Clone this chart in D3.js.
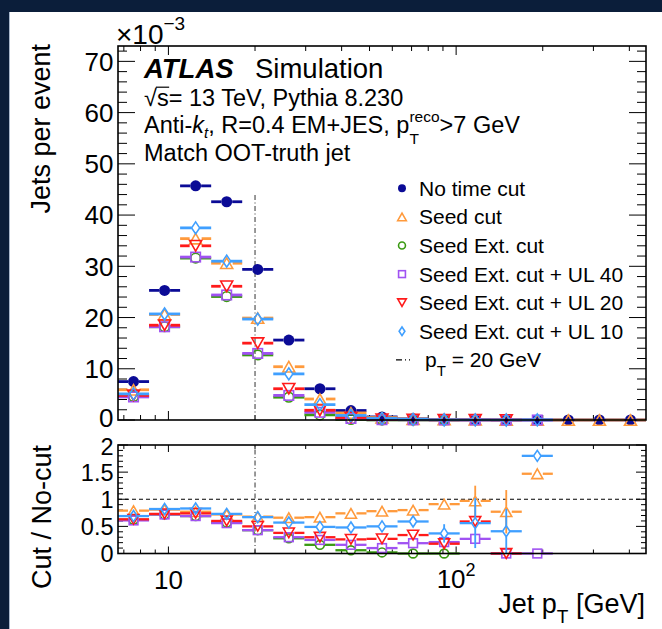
<!DOCTYPE html>
<html><head><meta charset="utf-8">
<script src="https://cdn.jsdelivr.net/npm/d3@7"></script>
<style>
body{margin:0;background:#0b1e3a;}
svg{display:block;}
text{font-family:"Liberation Sans",Arial,Helvetica,sans-serif;white-space:pre;fill:#000;}
</style>
</head><body>
<svg id="c" width="662" height="629"></svg>
<script>
// ---------------- data ----------------
const binEdges = [6.68, 8.565, 10.98, 14.08, 18.05, 23.14, 29.69, 38.06, 48.80, 62.57, 80.24, 102.9, 131.9, 169.1, 216.8, 278.0, 356.5, 457.0];
const seriesNames = ["No time cut", "Seed cut", "Seed Ext. cut", "Seed Ext. cut + UL 40", "Seed Ext. cut + UL 20", "Seed Ext. cut + UL 10"];

// Jets per event (x 10^-3)
const noCut   = [7.5, 25.3, 45.7, 42.6, 29.4, 15.6, 6.1, 1.85, 0.6, 0.22, 0.1, 0.05, 0.03, 0.015, 0.008, 0.005, 0.003];
const seedCut = [5.9, 20.6, 35.4, 30.6, 19.9, 10.4, 4.1, 1.37, 0.47, 0.18, 0.09, 0.05, 0.02, 0.02, 0, 0, 0];
const seedExt = [4.6, 18.2, 31.6, 24.1, 12.7, 4.45, 1.0, 0.11, 0.01, 0, 0, null, null, null, null, null, null];
const ul40    = [4.5, 18.2, 31.8, 24.4, 13.0, 4.8, 1.5, 0.3, 0.06, 0.04, 0.02, 0.015, 0, 0, null, null, null];
const ul20    = [4.8, 18.5, 34.0, 26.1, 15.0, 6.1, 1.9, 0.5, 0.16, 0.07, 0.02, 0.03, 0, null, null, null, null];
const ul10    = [5.1, 20.7, 37.5, 31.0, 19.7, 9.0, 3.0, 0.89, 0.3, 0.13, 0.04, 0.03, 0.012, 0.027, null, null, null];

// Cut / No-cut ratios
const rSeed  = [0.79, 0.81, 0.77, 0.72, 0.68, 0.66, 0.67, 0.74, 0.78, 0.80, 0.91, 0.97, 0.77, 1.47, null, null, null];
const rExt   = [0.62, 0.72, 0.69, 0.57, 0.43, 0.28, 0.16, 0.06, 0.02, 0, 0, null, null, null, null, null, null];
const rUL40  = [0.61, 0.72, 0.69, 0.56, 0.43, 0.30, 0.25, 0.16, 0.10, 0.19, 0.21, 0.27, 0, 0, null, null, null];
const rUL20  = [0.63, 0.73, 0.74, 0.60, 0.50, 0.38, 0.30, 0.26, 0.27, 0.34, 0.18, 0.59, 0, null, null, null, null];
const rUL10  = [0.69, 0.82, 0.83, 0.73, 0.67, 0.57, 0.49, 0.48, 0.50, 0.59, 0.37, 0.56, 0.41, 1.80, null, null, null];
// ratio uncertainties
const eSeed  = [0.01, 0.01, 0.01, 0.01, 0.01, 0.01, 0.02, 0.02, 0.03, 0.05, 0.08, 0.28, 0.40, 0, 0, 0, 0];
const eExt   = [0, 0, 0, 0, 0, 0, 0.01, 0.01, 0.01, 0, 0, 0, 0, 0, 0, 0, 0];
const eUL40  = [0, 0, 0, 0, 0, 0, 0.01, 0.02, 0.02, 0.04, 0.05, 0.05, 0, 0, 0, 0, 0];
const eUL20  = [0, 0, 0, 0, 0, 0, 0.01, 0.02, 0.03, 0.05, 0.05, 0.06, 0, 0, 0, 0, 0];
const eUL10  = [0.01, 0.01, 0.01, 0.01, 0.01, 0.01, 0.02, 0.03, 0.04, 0.08, 0.17, 0.46, 0.41, 0, 0, 0, 0];

const yTicksMain  = [0, 10, 20, 30, 40, 50, 60, 70];
const yTicksRatio = [0, 0.5, 1, 1.5, 2];
const xMajor = [10, 100];
const xMinor = [7, 8, 9, 20, 30, 40, 50, 60, 70, 80, 90, 200, 300, 400];
const cutPt = 20;        // GeV
const cutLineTop = 44;   // x10^-3, top end of the line in the upper panel
const yMaxMain = 73;
const yMaxRatio = 2;

// ---------------- styles ----------------
const styles = [
  {color: "#0b0b96", shape: "circleF"},
  {color: "#ff9a3c", shape: "triUp"},
  {color: "#3a9a12", shape: "circleO"},
  {color: "#a052f2", shape: "square"},
  {color: "#ff1a1a", shape: "triDown"},
  {color: "#3f9fff", shape: "diamond"}
];

const svg = d3.select("#c");
svg.append("rect").attr("width", 662).attr("height", 629).attr("fill", "#0b1e3a");
svg.append("rect").attr("x", 9.5).attr("y", 12).attr("width", 652.5).attr("height", 617).attr("fill", "#fff");
svg.append("line").attr("x1", 9.5).attr("x2", 9.5).attr("y1", 12).attr("y2", 629).attr("stroke", "#a9b8cc").attr("stroke-width", 1);

const X0 = 118, X1 = 646, MT = 46, MB = 420, RT = 445, RB = 553.5;
const x  = d3.scaleLog().domain([binEdges[0], binEdges[binEdges.length - 1]]).range([X0, X1]);
const yM = d3.scaleLinear().domain([0, yMaxMain]).range([MB, MT]);
const yR = d3.scaleLinear().domain([0, yMaxRatio]).range([RB, RT]);

// ---------------- helpers ----------------
function rich(parent, x0, y0, runs, anchor) {
  const g = parent.append("g");
  let cx = 0; const pos = [];
  const mk = (r, xx) => g.append("text").attr("x", xx).attr("y", r.dy || 0)
      .attr("font-size", r.fs).attr("font-style", r.it ? "italic" : "normal")
      .attr("font-weight", r.b ? "bold" : "normal").text(r.t);
  for (let i = 0; i < runs.length; i++) {
    const r = runs[i];
    const e = mk(r, cx); let w = e.node().getComputedTextLength();
    pos.push([cx, cx + w]);
    if (r.stack) {
      const r2 = runs[++i]; const e2 = mk(r2, cx);
      const w2 = e2.node().getComputedTextLength();
      pos.push([cx, cx + w2]); w = Math.max(w, w2);
    }
    cx += w + (r.after || 0);
  }
  const xs = anchor === "end" ? x0 - cx : anchor === "middle" ? x0 - cx / 2 : x0;
  g.attr("transform", `translate(${xs},${y0})`);
  return {g, pos, width: cx, x: xs};
}

const halfW = {circleF: 5.5, circleO: 5, triUp: 6, triDown: 6, square: 5, diamond: 4};
const halfH = {circleF: 5.5, circleO: 5, triUp: 5.5, triDown: 5.5, square: 5, diamond: 6};

function marker(g, shape, cx, cy, s, color) {
  const sw = 1.6;
  if (shape === "circleF") {
    g.append("circle").attr("cx", cx).attr("cy", cy).attr("r", 5.5 * s).attr("fill", color);
  } else if (shape === "circleO") {
    g.append("circle").attr("cx", cx).attr("cy", cy).attr("r", 4.8 * s).attr("fill", "none").attr("stroke", color).attr("stroke-width", sw);
  } else if (shape === "triUp" || shape === "triDown") {
    const w = 12 * s, h = 10.5 * s, d = shape === "triUp" ? 1 : -1;
    g.append("path").attr("d", `M${cx - w / 2},${cy + d * h / 2}L${cx + w / 2},${cy + d * h / 2}L${cx},${cy - d * h / 2}Z`)
      .attr("fill", "none").attr("stroke", color).attr("stroke-width", sw).attr("stroke-linejoin", "miter");
  } else if (shape === "square") {
    const a = 9.5 * s;
    g.append("rect").attr("x", cx - a / 2).attr("y", cy - a / 2).attr("width", a).attr("height", a)
      .attr("fill", "none").attr("stroke", color).attr("stroke-width", sw);
  } else if (shape === "diamond") {
    const w = 8 * s, h = 12 * s;
    g.append("path").attr("d", `M${cx},${cy - h / 2}L${cx + w / 2},${cy}L${cx},${cy + h / 2}L${cx - w / 2},${cy}Z`)
      .attr("fill", "none").attr("stroke", color).attr("stroke-width", sw);
  }
}

function drawSeries(g, vals, errs, st, yScale, lw, s, yLo, yHi) {
  const gg = g.append("g");
  vals.forEach((v, i) => {
    if (v == null) return;
    const lo = x(binEdges[i]), hi = x(binEdges[i + 1]);
    const cx = x(Math.sqrt(binEdges[i] * binEdges[i + 1]));
    const cy = yScale(v);
    const gw = halfW[st.shape] * s, gh = halfH[st.shape] * s;
    gg.append("line").attr("x1", lo).attr("x2", cx - gw).attr("y1", cy).attr("y2", cy).attr("stroke", st.color).attr("stroke-width", lw);
    gg.append("line").attr("x1", cx + gw).attr("x2", hi).attr("y1", cy).attr("y2", cy).attr("stroke", st.color).attr("stroke-width", lw);
    if (errs && errs[i] > 0) {
      const up = yScale(Math.min(v + errs[i], yHi)), dn = yScale(Math.max(v - errs[i], yLo));
      if (cy - gh > up) gg.append("line").attr("x1", cx).attr("x2", cx).attr("y1", up).attr("y2", cy - gh).attr("stroke", st.color).attr("stroke-width", lw * 0.8);
      if (cy + gh < dn) gg.append("line").attr("x1", cx).attr("x2", cx).attr("y1", cy + gh).attr("y2", dn).attr("stroke", st.color).attr("stroke-width", lw * 0.8);
    }
    marker(gg, st.shape, cx, cy, s, st.color);
  });
}

function xTicks(g, yBase, dir, lenMaj, lenMin) {
  xMajor.forEach(t => g.append("line").attr("x1", x(t)).attr("x2", x(t)).attr("y1", yBase).attr("y2", yBase + dir * lenMaj));
  xMinor.forEach(t => g.append("line").attr("x1", x(t)).attr("x2", x(t)).attr("y1", yBase).attr("y2", yBase + dir * lenMin));
}
function yTicks(g, scale, majors, minorStep, maxV, lenMaj, lenMin) {
  majors.forEach(t => {
    g.append("line").attr("x1", X0).attr("x2", X0 + lenMaj).attr("y1", scale(t)).attr("y2", scale(t));
    g.append("line").attr("x1", X1).attr("x2", X1 - lenMaj).attr("y1", scale(t)).attr("y2", scale(t));
  });
  const minors = d3.range(0, maxV + 1e-9, minorStep).filter(v => !majors.some(m => Math.abs(m - v) < 1e-9));
  minors.forEach(t => {
    g.append("line").attr("x1", X0).attr("x2", X0 + lenMin).attr("y1", scale(t)).attr("y2", scale(t));
    g.append("line").attr("x1", X1).attr("x2", X1 - lenMin).attr("y1", scale(t)).attr("y2", scale(t));
  });
}

// ---------------- ticks ----------------
const tickG = svg.append("g").attr("stroke", "#000").attr("stroke-width", 1);
xTicks(tickG, MB, -1, 9, 5);
xTicks(tickG, MT, 1, 9, 5);
yTicks(tickG, yM, yTicksMain, 2, yMaxMain, 17, 9);
xTicks(tickG, RB, -1, 7, 4);
xTicks(tickG, RT, 1, 7, 4);
yTicks(tickG, yR, yTicksRatio, 0.1, yMaxRatio, 10, 5);

// pT = 20 GeV lines
const lineStyle = {stroke: "#555", w: 1.2, dash: "5,2.5,1,2.5"};
svg.append("line").attr("x1", x(cutPt)).attr("x2", x(cutPt)).attr("y1", yM(0)).attr("y2", yM(cutLineTop))
  .attr("stroke", lineStyle.stroke).attr("stroke-width", lineStyle.w).attr("stroke-dasharray", lineStyle.dash);
svg.append("line").attr("x1", x(cutPt)).attr("x2", x(cutPt)).attr("y1", RB).attr("y2", RT)
  .attr("stroke", lineStyle.stroke).attr("stroke-width", lineStyle.w).attr("stroke-dasharray", lineStyle.dash);
// ratio = 1
svg.append("line").attr("x1", X0).attr("x2", X1).attr("y1", yR(1)).attr("y2", yR(1))
  .attr("stroke", "#000").attr("stroke-width", 1).attr("stroke-dasharray", "4,3");

const mainG = svg.append("g");
[noCut, seedCut, seedExt, ul40, ul20, ul10].forEach((vals, si) => drawSeries(mainG, vals, null, styles[si], yM, 2.8, 1, 0, yMaxMain));

const ratioG = svg.append("g");
[[rSeed, eSeed, 1], [rExt, eExt, 2], [rUL40, eUL40, 3], [rUL20, eUL20, 4], [rUL10, eUL10, 5]]
  .forEach(([vals, errs, si]) => drawSeries(ratioG, vals, errs, styles[si], yR, 2.3, 0.92, 0, yMaxRatio));

// frames
svg.append("rect").attr("x", X0).attr("y", MT).attr("width", X1 - X0).attr("height", MB - MT).attr("fill", "none").attr("stroke", "#000").attr("stroke-width", 1.6);
svg.append("rect").attr("x", X0).attr("y", RT).attr("width", X1 - X0).attr("height", RB - RT).attr("fill", "none").attr("stroke", "#000").attr("stroke-width", 1.6);

// ---------------- tick labels ----------------
const TFS = 26, RFS = 23.5;
const mainLabelShift = {0: -2.5};
const ratioLabelShift = {2: 1.5};
yTicksMain.forEach(t => svg.append("text").attr("x", 113.5).attr("y", yM(t) + 0.36 * TFS + (mainLabelShift[t] || 0))
  .attr("text-anchor", "end").attr("font-size", TFS).text(String(t)));
yTicksRatio.forEach(t => svg.append("text").attr("x", 113.5).attr("y", yR(t) + 0.36 * RFS + (ratioLabelShift[t] || 0))
  .attr("text-anchor", "end").attr("font-size", RFS).text(String(t)));
svg.append("text").attr("x", x(xMajor[0])).attr("y", 589).attr("text-anchor", "middle").attr("font-size", TFS).text("10");
rich(svg, x(xMajor[1]), 588, [{t: "10", fs: TFS}, {t: "2", fs: 18, dy: -12}], "middle");

// exponent label
rich(svg, 116, 43.5, [{t: "\u00d710", fs: 28}, {t: "\u22123", fs: 19, dy: -14}]);

// axis titles
svg.append("text").attr("transform", "translate(50,44) rotate(-90)").attr("text-anchor", "end").attr("font-size", 27).text("Jets per event");
svg.append("text").attr("transform", "translate(51,445) rotate(-90)").attr("text-anchor", "end").attr("font-size", 27).text("Cut / No-cut");
rich(svg, 645, 613, [{t: "Jet p", fs: 27}, {t: "T", fs: 19, dy: 10}, {t: " [GeV]", fs: 27}], "end");

// ---------------- ATLAS label & info ----------------
rich(svg, 144, 77.5, [{t: "ATLAS", fs: 27.5, b: true, it: true}]);
svg.append("text").attr("x", 255).attr("y", 77.5).attr("font-size", 27.5).text("Simulation");
const IFS = 23.5;
const sq = rich(svg, 144, 106, [{t: "\u221a", fs: IFS}, {t: "s", fs: IFS}, {t: "= 13 TeV, Pythia 8.230", fs: IFS}]);
svg.append("line").attr("x1", sq.x + sq.pos[0][1] - 1).attr("x2", sq.x + sq.pos[1][1] + 0.5)
  .attr("y1", 106 - IFS * 0.8).attr("y2", 106 - IFS * 0.8).attr("stroke", "#000").attr("stroke-width", 1.2);
rich(svg, 144, 133, [
  {t: "Anti-", fs: IFS}, {t: "k", fs: IFS, it: true}, {t: "t", fs: 15, it: true, dy: 5},
  {t: ", R=0.4 EM+JES, p", fs: IFS}, {t: "reco", fs: 15.5, dy: -11, stack: true}, {t: "T", fs: 15.5, dy: 11},
  {t: ">7 GeV", fs: IFS}
]);
rich(svg, 144, 161, [{t: "Match OOT-truth jet", fs: IFS}]);

// ---------------- legend ----------------
const LFS = 21, LX = 402, LT = 419, L0 = 188.3, LD = 28.6;
seriesNames.forEach((name, i) => {
  const cy = L0 + i * LD;
  marker(svg, styles[i].shape, LX, cy, 0.72, styles[i].color);
  svg.append("text").attr("x", LT).attr("y", cy + 0.36 * LFS).attr("font-size", LFS).text(name);
});
{
  const cy = L0 + 6 * LD;
  svg.append("line").attr("x1", 396).attr("x2", 410).attr("y1", cy).attr("y2", cy)
    .attr("stroke", "#000").attr("stroke-width", 1.3).attr("stroke-dasharray", "6,3,1,3");
  rich(svg, 425, cy + 0.36 * LFS, [{t: "p", fs: LFS}, {t: "T", fs: 15, dy: 9}, {t: " = 20 GeV", fs: LFS}]);
}
</script>
</body></html>
